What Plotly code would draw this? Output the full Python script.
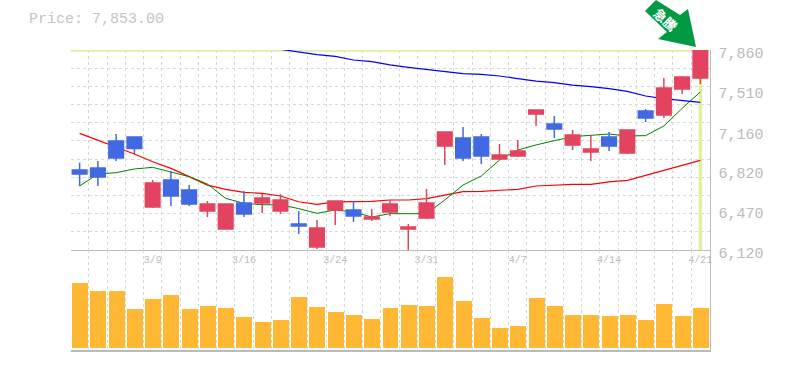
import plotly.graph_objects as go

dates = ["3/3","3/4","3/5","3/6","3/9","3/10","3/11","3/12","3/13","3/16","3/17","3/18","3/19","3/23","3/24","3/25","3/26","3/27","3/30","3/31",
         "4/1","4/2","4/3","4/6","4/7","4/8","4/9","4/10","4/13","4/14","4/15","4/16","4/17","4/20","4/21"]
opens = [6816,6833,7068,7103,6494,6729,6642,6459,6303,6529,6529,6459,6346,6146,6468,6468,6390,6451,6303,6398,
         7025,7094,7103,6912,6938,7303,7216,7034,6973,7103,6964,7329,7295,7521,7616]
highs = [6880,6894,7129,7103,6729,6807,6685,6546,6520,6633,6607,6607,6459,6381,6546,6546,6477,6555,6346,6651,
         7147,7190,7129,7042,7077,7338,7286,7164,7121,7147,7164,7347,7616,7634,7860]
lows = [6677,6677,6894,6955,6485,6503,6503,6407,6303,6407,6442,6433,6259,6129,6338,6364,6372,6416,6120,6390,
        6859,6894,6868,6912,6929,7199,7094,6990,6894,6981,6955,7234,7268,7477,7564]
closes = [6781,6755,6920,7003,6703,6590,6520,6520,6520,6433,6572,6555,6329,6311,6546,6416,6407,6520,6320,6529,
          7147,6920,6938,6946,6981,7338,7173,7121,6999,7025,7164,7268,7529,7625,7853]
ma_short = [6677,6781,6793,6825,6839,6801,6758,6694,6569,6526,6514,6514,6480,6439,6468,6451,6407,6436,6436,6436,
            6555,6685,6764,6903,6990,7034,7071,7106,7118,7129,7112,7115,7199,7352,7495]
ma_mid = [7135,7077,7013,6955,6888,6830,6758,6685,6648,6622,6613,6590,6540,6517,6538,6538,6543,6555,6555,6567,
          6598,6627,6630,6636,6648,6677,6685,6691,6691,6712,6726,6770,6819,6857,6900]
ma_long_start = 11
ma_long = [7866,7840,7819,7805,7773,7759,7730,7709,7692,7674,7654,7648,7634,7611,7590,7576,7555,7541,7524,7500,7460,7437,7422,7405]
volumes = [195000,171000,171000,117000,147000,159000,117000,126000,120000,93000,78000,84000,153000,123000,108000,99000,87000,120000,
           129000,126000,213000,141000,90000,60000,66000,150000,126000,99000,99000,96000,99000,84000,132000,96000,120000]
tick_idx = [4,9,14,19,24,29,34]
price_ticks = [7860,7510,7160,6820,6470,6120]
price_label = "Price: 7,853.00"
badge = "急騰"

W, H = 785, 370
xs = list(range(len(dates)))
FONT = "Liberation Mono"
GRAY = "#bbbbbb"
GRID = "#d8d8d8"
DASH = "3px,3px"
HILITE = "#E0F0A0"
x_range = [-0.5, len(dates) - 0.5]
y_range = [6120, 7860]
dom_x = [70.5 / W, 709.5 / W]
dom_price = [1 - 250 / H, 1 - 50 / H]
dom_vol = [1 - 349.5 / H, 1 - 250 / H]

fig = go.Figure()
fig.add_trace(go.Bar(x=xs, y=volumes, marker=dict(color="#FFB833", line=dict(width=0)), width=0.875,
                     xaxis="x2", yaxis="y2", showlegend=False))
# Highlight of the latest bar: its high across the panel, its date down the panel
fig.add_trace(go.Scatter(x=x_range, y=[highs[-1], highs[-1]], mode="lines", line=dict(color=HILITE, width=3.5),
                         cliponaxis=False, showlegend=False))
fig.add_trace(go.Scatter(x=[xs[-1], xs[-1]], y=[y_range[0], highs[-1]], mode="lines", line=dict(color=HILITE, width=3.5),
                         cliponaxis=False, showlegend=False))
fig.add_trace(go.Scatter(x=xs, y=ma_mid, mode="lines", line=dict(color="#ff0000", width=1.2), showlegend=False))
fig.add_trace(go.Scatter(x=xs, y=ma_short, mode="lines", line=dict(color="#008000", width=1), showlegend=False))
fig.add_trace(go.Scatter(x=xs[ma_long_start:], y=ma_long, mode="lines", line=dict(color="#0000ff", width=1.2),
                         cliponaxis=False, showlegend=False))
fig.add_trace(go.Candlestick(x=xs, open=opens, high=highs, low=lows, close=closes, xaxis="x3", yaxis="y3",
                             increasing=dict(line=dict(color="#E2445F", width=1.5), fillcolor="#E2445F"),
                             decreasing=dict(line=dict(color="#4169E1", width=1.5), fillcolor="#4169E1"),
                             showlegend=False))

minor_x = dict(showgrid=True, gridcolor=GRID, griddash=DASH, gridwidth=1, tick0=-0.5, dtick=1, ticks="")

fig.update_layout(
    width=W, height=H, margin=dict(l=0, r=0, t=0, b=0, autoexpand=False),
    paper_bgcolor="white", plot_bgcolor="white", boxgap=0.2, boxgroupgap=0, bargap=0,
    font=dict(family=FONT, color=GRAY),
    xaxis=dict(domain=dom_x, anchor="y", range=x_range, tickmode="array", tickvals=tick_idx,
               ticktext=[dates[i] for i in tick_idx], showgrid=False, minor=minor_x, zeroline=False,
               showline=True, linecolor=GRAY, linewidth=1, ticks="",
               tickfont=dict(family=FONT, size=10, color=GRAY), tickangle=0),
    yaxis=dict(domain=dom_price, anchor="x", side="right", range=y_range, tickmode="array", tickvals=price_ticks,
               ticktext=[f"{v:,}" for v in price_ticks], showgrid=False, zeroline=False,
               minor=dict(showgrid=True, gridcolor=GRID, griddash=DASH, gridwidth=1, tick0=6120, dtick=1740 / 11, ticks=""),
               showline=True, linecolor=GRAY, linewidth=1, ticks="outside", ticklen=5,
               tickcolor="rgba(0,0,0,0)", tickfont=dict(family=FONT, size=15, color=GRAY), ticklabelshift=3),
    xaxis2=dict(domain=dom_x, anchor="y2", range=x_range, showticklabels=False, showgrid=False, minor=minor_x,
                zeroline=False, showline=True, linecolor=GRAY, linewidth=1.5, ticks=""),
    yaxis2=dict(domain=dom_vol, anchor="x2", side="right", range=[-4500, 294000], showticklabels=False, showgrid=False,
                zeroline=False, showline=True, linecolor=GRAY, linewidth=1, ticks=""),
    xaxis3=dict(domain=dom_x, overlaying="x", anchor="y3", range=x_range, visible=False, rangeslider=dict(visible=False)),
    yaxis3=dict(domain=dom_price, overlaying="y", anchor="x3", range=y_range, visible=False),
    shapes=[
        dict(type="path", xref="paper", yref="paper", fillcolor="#009944", line=dict(width=0),
             path="M %f %f L %f %f L %f %f L %f %f L %f %f L %f %f L %f %f Z" % (
                 645/W, 1-11/H, 656/W, 1-0/H, 680/W, 1-15/H, 688/W, 1-9/H, 696/W, 1-47/H, 658/W, 1-39/H, 667/W, 1-32/H)),
    ],
    annotations=[
        dict(xref="paper", yref="paper", x=27/W, y=1-19/H, xanchor="left", yanchor="middle", showarrow=False,
             text=price_label, font=dict(family=FONT, size=15, color="#c4c4c4")),
        dict(xref="paper", yref="paper", x=666/W, y=1-19/H, xanchor="center", yanchor="middle", showarrow=False,
             text="<b>%s</b>" % badge, textangle=42, font=dict(family="Noto Sans CJK JP", size=13, color="white")),
    ],
)

fig.write_html("out.html", post_script="document.body.style.margin='0';", config=dict(displayModeBar=False))
